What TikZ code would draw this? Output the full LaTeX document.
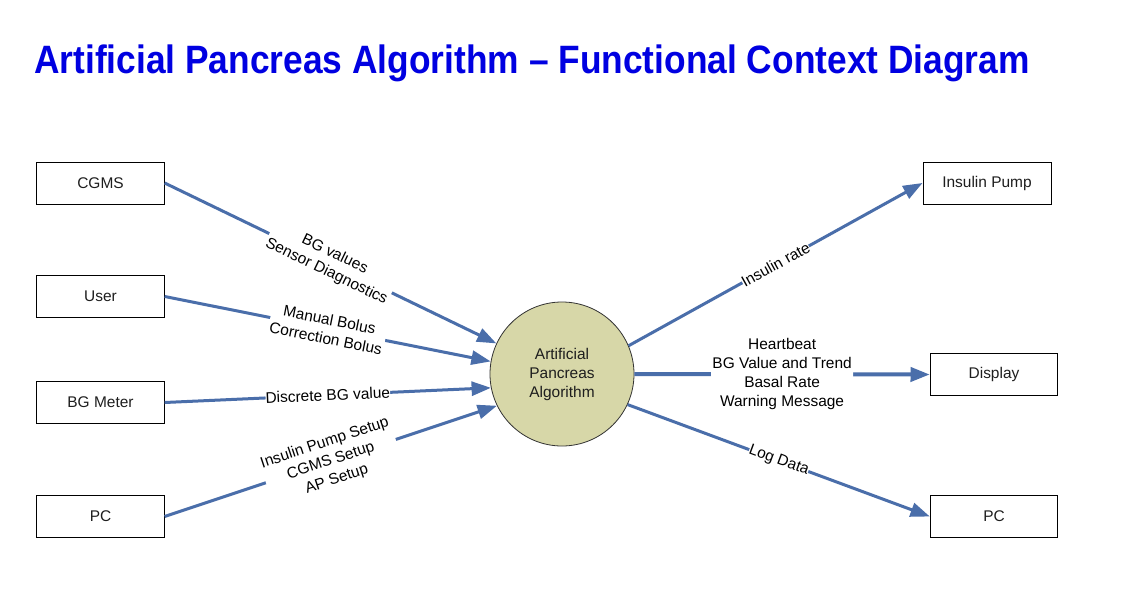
\documentclass[tikz,border=0pt]{standalone}
\usepackage{fontspec}
\setmainfont{Liberation Sans}
\usetikzlibrary{arrows.meta}
\definecolor{titleblue}{RGB}{0,0,225}
\definecolor{flow}{RGB}{74,110,170}
\definecolor{khaki}{RGB}{215,215,168}
\definecolor{boxtext}{RGB}{30,30,30}
\begin{document}
\begin{tikzpicture}[x=0.75pt,y=-0.75pt,
  ext/.style={draw=black, line width=0.75pt, minimum width=95.5pt, minimum height=31.5pt, inner sep=0pt,
    text=boxtext, font=\fontsize{11.6}{14}\selectfont},
  proc/.style={circle, draw=black!80, line width=0.6pt, fill=khaki, minimum size=108pt, inner sep=0pt,
    align=center, text=boxtext, font=\fontsize{11.6}{14.25}\selectfont},
  flowline/.style={draw=flow, line width=2.25pt, -{Triangle[length=14.5pt,width=10.5pt]}},
  lbl/.style={midway, sloped, fill=white, inner sep=1pt, align=center, text=black,
    font=\fontsize{11.6}{14.25}\selectfont}
]
\useasboundingbox (0,0) rectangle (1143,589);
\fill[white] (0,0) rectangle (1143,589);

\node[anchor=base west, text=titleblue, inner sep=0pt] (title) at (34,73)
  {\scalebox{1}[1.12]{\fontsize{26.5}{30}\selectfont\bfseries Artificial Pancreas Algorithm – Functional Context Diagram}};

\node[ext] (cgms) at (100.5,183) {CGMS};
\node[ext] (user) at (100.5,296.5) {User};
\node[ext] (bgm) at (100.5,402.5) {BG Meter};
\node[ext] (pcl) at (100.5,516.5) {PC};
\node[ext, minimum width=96pt] (pump) at (987,183) {Insulin Pump};
\node[ext] (disp) at (994,374.5) {Display};
\node[ext] (pcr) at (994,516.5) {PC};

\node[proc] (ap) at (562,374) {Artificial\\Pancreas\\Algorithm};

\draw[flowline] (cgms.east) -- (ap.155) node[lbl] {BG values\\Sensor Diagnostics};
\draw[flowline] (user.east) -- (ap.170) node[lbl] {Manual Bolus\\Correction Bolus};
\draw[flowline] (bgm.east) -- (ap.191) node[lbl, inner sep=0pt] {Discrete BG value};
\draw[flowline] (pcl.east) -- (ap.206) node[lbl] {Insulin Pump Setup\\CGMS Setup\\AP Setup};

\draw[flowline] (ap.23) -- (pump.west) node[lbl, inner sep=0pt] {Insulin rate};
\draw[flowline, line width=3pt] (ap.east) -- (disp.west) node[lbl] {Heartbeat\\BG Value and Trend\\Basal Rate\\Warning Message};
\draw[flowline] (ap.-25) -- (pcr.west) node[lbl, inner sep=0pt] {Log Data};
\end{tikzpicture}
\end{document}
